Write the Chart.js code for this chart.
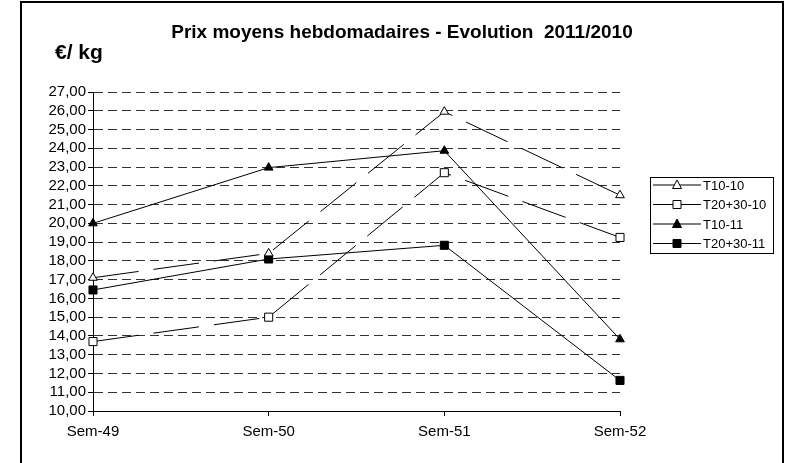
<!DOCTYPE html>
<html lang="fr">
<head>
<meta charset="utf-8">
<title>Prix moyens hebdomadaires - Evolution 2011/2010</title>
<script src="https://cdn.jsdelivr.net/npm/chart.js@4"></script>
<style>
  html, body { margin: 0; padding: 0; background: #fff; }
  #wrap { position: relative; width: 789px; height: 463px; overflow: hidden; }
  #cadre { position: absolute; left: 20px; top: 1px; width: 760px; height: 480px; border: 2px solid #000; }
  #prix-chart { position: absolute; left: 0; top: 0; }
</style>
</head>
<body>
<div id="wrap">
  <div id="cadre"></div>
  <canvas id="prix-chart" width="789" height="463"></canvas>
</div>
<script>
// Données (€/kg par semaine)
const semaines = ["Sem-49", "Sem-50", "Sem-51", "Sem-52"];
const t10_10 = [17.1, 18.4, 25.95, 21.5];
const t2030_10 = [13.7, 15.0, 22.7, 19.25];
const t10_11 = [20.0, 22.97, 23.87, 13.82];
const t2030_11 = [16.45, 18.1, 18.83, 11.63];

const titre = "Prix moyens hebdomadaires - Evolution  2011/2010";
const unite = "€/ kg";
const police = "'Liberation Sans', Arial, sans-serif";

// Trace un marqueur (triangle ou carré, plein ou vide)
function dessinerMarqueur(ctx, style, plein, x, y) {
  ctx.save();
  ctx.beginPath();
  if (style === "triangle") {
    ctx.moveTo(x, y - 5);
    ctx.lineTo(x + 4.5, y + 3.5);
    ctx.lineTo(x - 4.5, y + 3.5);
    ctx.closePath();
  } else {
    ctx.rect(x - 4, y - 4, 8, 8);
  }
  ctx.fillStyle = plein ? "#000" : "#fff";
  ctx.fill();
  ctx.lineWidth = 1;
  ctx.strokeStyle = "#000";
  ctx.stroke();
  ctx.restore();
}

// Titre, unité et légende encadrée (dessinés à la main)
const decorPlugin = {
  id: "decor",
  afterDraw(chart) {
    const ctx = chart.ctx;
    ctx.save();
    ctx.fillStyle = "#000";
    ctx.textBaseline = "middle";

    ctx.font = "bold 19px " + police;
    ctx.textAlign = "center";
    ctx.fillText(titre, 402, 33);

    ctx.font = "bold 21px " + police;
    ctx.textAlign = "left";
    ctx.fillText(unite, 55, 53);

    // cadre de la légende
    ctx.lineWidth = 1;
    ctx.strokeStyle = "#000";
    ctx.strokeRect(650.5, 177.5, 123, 76);

    ctx.font = "13px " + police;
    chart.data.datasets.forEach((ds, i) => {
      const y = 185 + i * 19.5;
      ctx.beginPath();
      ctx.moveTo(653, y);
      ctx.lineTo(701, y);
      ctx.lineWidth = 1;
      ctx.stroke();
      dessinerMarqueur(ctx, ds.pointStyle, ds.pointBackgroundColor === "#000", 677, y);
      ctx.fillText(ds.label, 703, y + 1);
    });
    ctx.restore();
  }
};

function serie(label, valeurs, style, plein, pointille) {
  return {
    label: label,
    data: valeurs,
    borderColor: "#000",
    borderWidth: 1,
    borderDash: pointille ? [46, 15] : [],
    pointStyle: style,
    pointRadius: style === "triangle" ? 5 : 5.7,
    pointBackgroundColor: plein ? "#000" : "#fff",
    pointBorderColor: "#000",
    pointBorderWidth: 1,
    tension: 0,
    fill: false
  };
}

new Chart(document.getElementById("prix-chart"), {
  type: "line",
  data: {
    labels: semaines,
    datasets: [
      serie("T10-10", t10_10, "triangle", false, true),
      serie("T20+30-10", t2030_10, "rect", false, true),
      serie("T10-11", t10_11, "triangle", true, false),
      serie("T20+30-11", t2030_11, "rect", true, false)
    ]
  },
  options: {
    responsive: false,
    animation: false,
    events: [],
    layout: { padding: { left: 0, top: 92, right: 169, bottom: 0 } },
    plugins: {
      legend: { display: false },
      tooltip: { enabled: false }
    },
    scales: {
      x: {
        offset: false,
        afterFit: (s) => { s.height = 52; },
        grid: { drawOnChartArea: false, drawTicks: true, tickLength: 5, color: "#000" },
        border: { display: true, color: "#000", width: 1 },
        ticks: { color: "#000", padding: 7, maxRotation: 0, autoSkip: false, font: { family: police, size: 15 } }
      },
      y: {
        min: 10,
        max: 27,
        afterFit: (s) => { s.width = 93; },
        grid: { color: "#333", lineWidth: 1, tickLength: 5, tickColor: "#000" },
        border: { display: true, color: "#000", width: 1, dash: [9, 5] },
        ticks: {
          stepSize: 1,
          autoSkip: false,
          color: "#000",
          padding: 2,
          font: { family: police, size: 15 },
          callback: (v) => v.toFixed(2).replace(".", ",")
        }
      }
    }
  },
  plugins: [decorPlugin]
});
</script>
</body>
</html>
